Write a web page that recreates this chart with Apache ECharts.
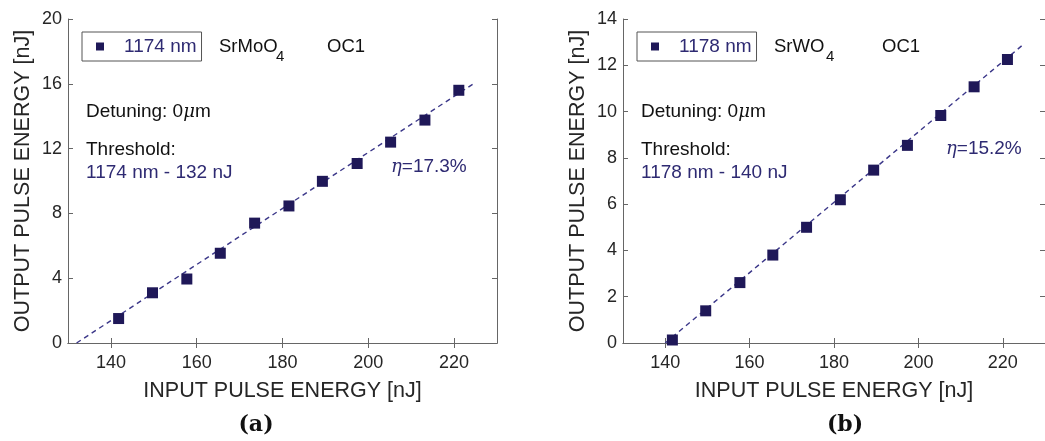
<!DOCTYPE html>
<html>
<head>
<meta charset="utf-8">
<script src="https://cdn.jsdelivr.net/npm/echarts@6/dist/echarts.min.js"></script>
<style>
  html, body { margin: 0; padding: 0; background: #fff; }
  #main { width: 1045px; height: 441px; }
</style>
</head>
<body>
<div id="main"></div>
<script>
// input pulse energy [nJ] (same pump steps for both crystals)
var inputA = [141.8, 149.7, 157.7, 165.5, 173.5, 181.5, 189.3, 197.4, 205.2, 213.2, 221.1];
var outputA = [1.51, 3.1, 3.95, 5.54, 7.4, 8.46, 9.98, 11.08, 12.4, 13.76, 15.6];
var inputB = [141.7, 149.6, 157.7, 165.5, 173.5, 181.5, 189.4, 197.4, 205.3, 213.2, 221.1];
var outputB = [0.13, 1.39, 2.61, 3.8, 5.0, 6.19, 7.47, 8.54, 9.83, 11.07, 12.25];
// linear fits: threshold [nJ] and slope efficiency
var thresholdA = 132, slopeA = 0.173;
var thresholdB = 140, slopeB = 0.152;
var fitEnd = 225;
var xRange = [130, 230];
var xTicks = [140, 160, 180, 200, 220];
var yRangeA = [0, 20], yRangeB = [0, 14];

var navy = "#1f1858";
var blueText = "#2e2a72";
var axisGray = "#666";
var font = "Liberation Sans";

function pairs(xs, ys) {
  return xs.map(function (x, i) { return [x, ys[i]]; });
}
function fitLine(th, slope) {
  return [[th, 0], [fitEnd, slope * (fitEnd - th)]];
}

function xAx(grid, pos) {
  var bottom = pos === "bottom";
  return {
    type: "value", gridIndex: grid, position: pos,
    min: xRange[0], max: xRange[1], interval: 10,
    axisLine: { show: true, lineStyle: { color: axisGray, width: 1 } },
    axisTick: { show: true, inside: true, length: 5, customValues: xTicks,
      lineStyle: { color: axisGray } },
    axisLabel: { show: bottom, margin: 11, fontSize: 18, fontFamily: font, color: "#262626",
      customValues: xTicks },
    splitLine: { show: false },
    name: bottom ? "INPUT PULSE ENERGY [nJ]" : "",
    nameLocation: "middle", nameGap: 37,
    nameTextStyle: { fontSize: 21.5, fontFamily: font, color: "#262626" }
  };
}
function yAx(grid, pos, range, step) {
  var left = pos === "left";
  return {
    type: "value", gridIndex: grid, position: pos,
    min: range[0], max: range[1], interval: step,
    axisLine: { show: true, lineStyle: { color: axisGray, width: 1 } },
    axisTick: { show: true, inside: true, length: 5, lineStyle: { color: axisGray } },
    axisLabel: { show: left, margin: 6, fontSize: 18, fontFamily: font, color: "#262626" },
    splitLine: { show: false },
    name: left ? "OUTPUT PULSE ENERGY [nJ]" : "",
    nameLocation: "middle", nameGap: 34, nameRotate: 90,
    nameTextStyle: { fontSize: 21.5, fontFamily: font, color: "#262626" }
  };
}

function legendBox(name, left) {
  return {
    data: [name], left: left, top: 32,
    orient: "horizontal", icon: "rect", itemWidth: 8, itemHeight: 8,
    padding: [5, 5, 5, 14],
    borderColor: "#555", borderWidth: 1,
    itemStyle: { opacity: 1 },
    textStyle: { fontSize: 19, fontFamily: font, color: blueText, lineHeight: 19,
      padding: [0, 0, 0, 15] },
    selectedMode: false
  };
}

function txt(x, y, text, size, color, extra) {
  var st = { text: text, x: x, y: y, fontSize: size, fontFamily: font,
    fill: color, verticalAlign: "middle", align: "left" };
  if (extra) for (var k in extra) st[k] = extra[k];
  return { type: "text", z: 10, style: st };
}
var greek = { g: { fontFamily: "DejaVu Serif", fontStyle: "italic", fontSize: 18 } };

function notes(x0, crystalX, subX, crystal, line, thr, eta, etaX, etaY) {
  var c = "#111";
  return [
    txt(crystalX, 47, crystal, 18.5, c),
    txt(subX, 57, "4", 15, c),
    txt(crystalX + 108, 47, "OC1", 18.5, c),
    txt(x0, 112, "Detuning: 0{g|\u03bc}m", 19, c, { rich: greek }),
    txt(x0, 150, "Threshold:", 19, c),
    txt(x0, 173, line + " - " + thr + " nJ", 19, blueText),
    txt(etaX, etaY, "{g|\u03b7}=" + eta + "%", 19, blueText, { rich: greek })
  ];
}

var chart = echarts.init(document.getElementById("main"));
var option = {
  animation: false,
  backgroundColor: "#fff",
  grid: [
    { left: 68, top: 19, width: 429, height: 324 },
    { left: 623, top: 19, width: 428, height: 324 }
  ],
  xAxis: [xAx(0, "bottom"), xAx(0, "top"), xAx(1, "bottom"), xAx(1, "top")],
  yAxis: [yAx(0, "left", yRangeA, 4), yAx(0, "right", yRangeA, 4),
          yAx(1, "left", yRangeB, 2), yAx(1, "right", yRangeB, 2)],
  legend: [legendBox("1174 nm", 82), legendBox("1178 nm", 637)],
  series: [
    { name: "fitA", type: "line", xAxisIndex: 0, yAxisIndex: 0, data: fitLine(thresholdA, slopeA),
      symbol: "none", z: 2, lineStyle: { color: "#3b3789", width: 1.4, type: [5, 4] } },
    { name: "1174 nm", type: "scatter", xAxisIndex: 0, yAxisIndex: 0, data: pairs(inputA, outputA),
      symbol: "rect", symbolSize: 11, z: 3, itemStyle: { color: navy, opacity: 1 } },
    { name: "fitB", type: "line", xAxisIndex: 2, yAxisIndex: 2, data: fitLine(thresholdB, slopeB),
      symbol: "none", z: 2, lineStyle: { color: "#3b3789", width: 1.4, type: [5, 4] } },
    { name: "1178 nm", type: "scatter", xAxisIndex: 2, yAxisIndex: 2, data: pairs(inputB, outputB),
      symbol: "rect", symbolSize: 11, z: 3, itemStyle: { color: navy, opacity: 1 } }
  ],
  graphic: []
    .concat(notes(86, 219, 276, "SrMoO", "1174 nm", thresholdA, "17.3", 391, 167))
    .concat(notes(641, 774, 826, "SrWO", "1178 nm", thresholdB, "15.2", 946, 149))
    .concat([
      { type: "text", z: 10, style: { text: "(a)", x: 256, y: 425, align: "center", verticalAlign: "middle",
        fontSize: 22, fontWeight: "bold", fontFamily: "DejaVu Serif", fill: "#111" } },
      { type: "text", z: 10, style: { text: "(b)", x: 845, y: 425, align: "center", verticalAlign: "middle",
        fontSize: 22, fontWeight: "bold", fontFamily: "DejaVu Serif", fill: "#111" } }
    ])
};
chart.setOption(option);
</script>
</body>
</html>
